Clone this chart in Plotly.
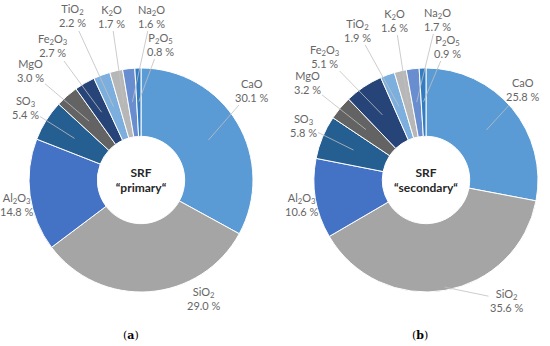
import math
import plotly.graph_objects as go

# ---------------- data ----------------
oxides = ["CaO", "SiO<sub>2</sub>", "Al<sub>2</sub>O<sub>3</sub>", "SO<sub>3</sub>", "MgO",
          "Fe<sub>2</sub>O<sub>3</sub>", "TiO<sub>2</sub>", "K<sub>2</sub>O", "Na<sub>2</sub>O",
          "P<sub>2</sub>O<sub>5</sub>"]
primary = [30.1, 29.0, 14.8, 5.4, 3.0, 2.7, 2.2, 1.7, 1.6, 0.8]
secondary = [25.8, 35.6, 10.6, 5.8, 3.2, 5.1, 1.9, 1.6, 1.7, 0.9]
center_titles = ["<b>SRF<br>\u201cprimary\u201c</b>", "<b>SRF<br>\u201csecondary\u201c</b>"]
captions = ["(<b>a</b>)", "(<b>b</b>)"]

# ---------------- style / layout ----------------
colors = ["#5B9BD5", "#A5A5A5", "#4472C4", "#255E91", "#636363",
          "#264478", "#7CAFDD", "#B7B7B7", "#698ED0", "#327DC2"]
W, H = 550, 346
R = 112
HOLE = 0.39
centers = [(141, 180), (426, 180)]
# label centre positions (px) for each chart
label_pos = [
    [(252, 90), (204, 298), (17, 205), (25, 107), (30, 71), (53, 46), (72, 16), (111, 16), (151, 16), (160, 44)],
    [(523, 90), (507, 300), (302, 205), (303, 125), (307, 83), (325, 56), (357, 30), (395, 20), (437, 19), (447, 46)],
]
show_leader = [
    [True, False, False, True, True, True, True, True, True, True],
    [True, True, False, True, True, True, True, True, True, True],
]
# radius (fraction of outer radius) where each leader line starts
leader_start = [
    [0.7] * 10,
    [0.7, 0.97, 0.7, 0.7, 0.7, 0.7, 0.7, 0.7, 0.7, 0.7],
]
label_font = dict(family="Lato, Open Sans, sans-serif", size=11, color="#666666")

fig = go.Figure()
annotations = []

for k, vals in enumerate([primary, secondary]):
    cx, cy = centers[k]
    dom_x = [(cx - R) / W, (cx + R) / W]
    dom_y = [1 - (cy + R) / H, 1 - (cy - R) / H]
    fig.add_trace(go.Pie(
        labels=oxides, values=vals, sort=False, direction="clockwise", rotation=0,
        hole=HOLE, textinfo="none", hoverinfo="label+value",
        marker=dict(colors=colors, line=dict(color="white", width=1)),
        domain=dict(x=dom_x, y=dom_y), showlegend=False,
        title=dict(text=center_titles[k], position="middle center",
                   font=dict(family="Lato, Open Sans, sans-serif", size=12, color="#262626")),
    ))
    total = sum(vals)
    cum = 0.0
    for i, v in enumerate(vals):
        theta = 2 * math.pi * (cum + v / 2) / total
        cum += v
        rs = R * leader_start[k][i]
        hx = cx + rs * math.sin(theta)
        hy = cy - rs * math.cos(theta)
        tx, ty = label_pos[k][i]
        txt = f"{oxides[i]}<br>{v:.1f} %"
        if show_leader[k][i]:
            annotations.append(dict(
                x=hx / W, y=1 - hy / H, xref="paper", yref="paper",
                ax=tx - hx, ay=ty - hy, text=txt, showarrow=True,
                arrowhead=0, arrowwidth=0.8, arrowcolor="#BFBFBF", standoff=0,
                font=label_font, align="center"))
        else:
            annotations.append(dict(
                x=tx / W, y=1 - ty / H, xref="paper", yref="paper",
                text=txt, showarrow=False, font=label_font, align="center",
                xanchor="center", yanchor="middle"))

cap_x = [131, 420]
for k in range(2):
    annotations.append(dict(
        x=cap_x[k] / W, y=1 - 335 / H, xref="paper", yref="paper", text=captions[k],
        showarrow=False, xanchor="center", yanchor="middle",
        font=dict(family="DejaVu Serif, Liberation Serif, serif", size=11, color="#000000")))

fig.update_layout(
    width=W, height=H, margin=dict(l=0, r=0, t=0, b=0),
    paper_bgcolor="white", plot_bgcolor="white",
    annotations=annotations,
)

fig.write_html("out.html", config={"displayModeBar": False},
               post_script="document.body.style.margin='0';document.body.style.overflow='hidden';")
